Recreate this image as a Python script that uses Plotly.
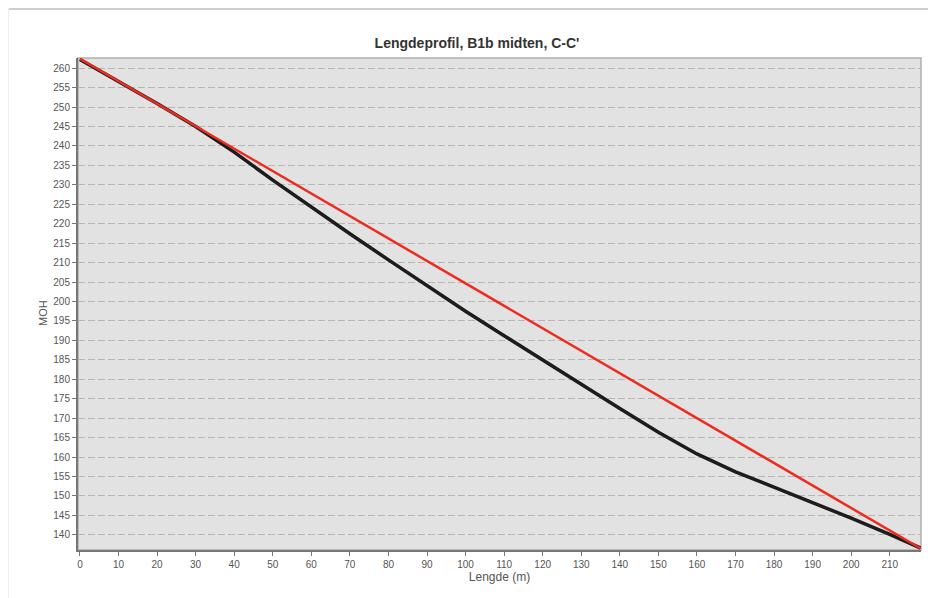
import plotly.graph_objects as go

# Data
terrain_x = [0, 10, 20, 30, 40, 50, 60, 70, 80, 90, 100, 110, 120, 130, 140,
             150, 160, 170, 180, 190, 200, 210, 218]
terrain_y = [262.2, 256.6, 250.9, 245.0, 238.4, 231.2, 224.2, 217.4, 210.7, 204.0,
             197.5, 191.2, 184.9, 178.6, 172.5, 166.4, 160.8, 156.2, 152.3, 148.4,
             144.3, 140.1, 136.6]
line_x = [0, 218]
line_y = [262.4, 136.5]

x_ticks = list(range(0, 211, 10))
y_ticks = list(range(140, 261, 5))

title_text = "Lengdeprofil, B1b midten, C-C'"
x_title = "Lengde (m)"
y_title = "MOH"

# The page body has an 8px margin, so the figure is sized to fill the rest.
W, H = 928, 590
ML, MR, MT, MB = 70, 15, 50, 48
PW, PH = W - ML - MR, H - MT - MB

fig = go.Figure()
fig.add_trace(go.Scatter(x=terrain_x, y=terrain_y, mode="lines",
                         line=dict(color="#1c1c1c", width=3.5), showlegend=False,
                         cliponaxis=False))
fig.add_trace(go.Scatter(x=line_x, y=line_y, mode="lines",
                         line=dict(color="#ee2b1e", width=2.5), showlegend=False,
                         cliponaxis=False))

font_family = "Liberation Sans, Arial, sans-serif"

fig.update_layout(
    width=W, height=H,
    margin=dict(l=ML, r=MR, t=MT, b=MB),
    paper_bgcolor="white",
    plot_bgcolor="#e2e2e2",
    font=dict(family=font_family, size=10, color="#555555"),
    title=dict(text="<b>" + title_text + "</b>", x=469 / W, xanchor="center",
               y=1 - 35 / H, yanchor="middle",
               font=dict(family=font_family, size=14, color="#333333")),
    xaxis=dict(range=[-0.5, 218.1], tickmode="array", tickvals=x_ticks,
               showgrid=False, zeroline=False, showline=True, linecolor="#777777",
               linewidth=2, ticks="outside", ticklen=4, tickcolor="#777777",
               tickfont=dict(size=10, color="#555555"),
               title=dict(text=x_title, standoff=3, font=dict(size=12, color="#555555"))),
    yaxis=dict(range=[136.1, 262.6], tickmode="array", tickvals=y_ticks,
               showgrid=True, gridcolor="#b6b6b6", griddash="7px,3px", gridwidth=1,
               zeroline=False, showline=True, linecolor="#777777", linewidth=2,
               ticks="outside", ticklen=4, tickcolor="#777777",
               tickfont=dict(size=10, color="#555555")),
    annotations=[
        dict(text=y_title, xref="paper", yref="paper", x=(35 - ML) / PW,
             y=(H - MB - 305) / PH, textangle=-90, showarrow=False,
             xanchor="center", yanchor="middle",
             font=dict(size=11, color="#555555")),
    ],
    shapes=[
        dict(type="rect", xref="paper", yref="paper", x0=0, x1=1, y0=0, y1=1,
             line=dict(color="#b0b0b0", width=1.5), layer="below"),
        dict(type="line", xref="paper", yref="paper", x0=-ML / PW, x1=1 + MR / PW,
             y0=1 + (MT - 1) / PH, y1=1 + (MT - 1) / PH,
             line=dict(color="#cfcfcf", width=2)),
        dict(type="line", xref="paper", yref="paper", x0=(0.5 - ML) / PW,
             x1=(0.5 - ML) / PW, y0=-MB / PH, y1=1 + MT / PH,
             line=dict(color="#eeeeee", width=1)),
    ],
)

fig.write_html("out.html")
